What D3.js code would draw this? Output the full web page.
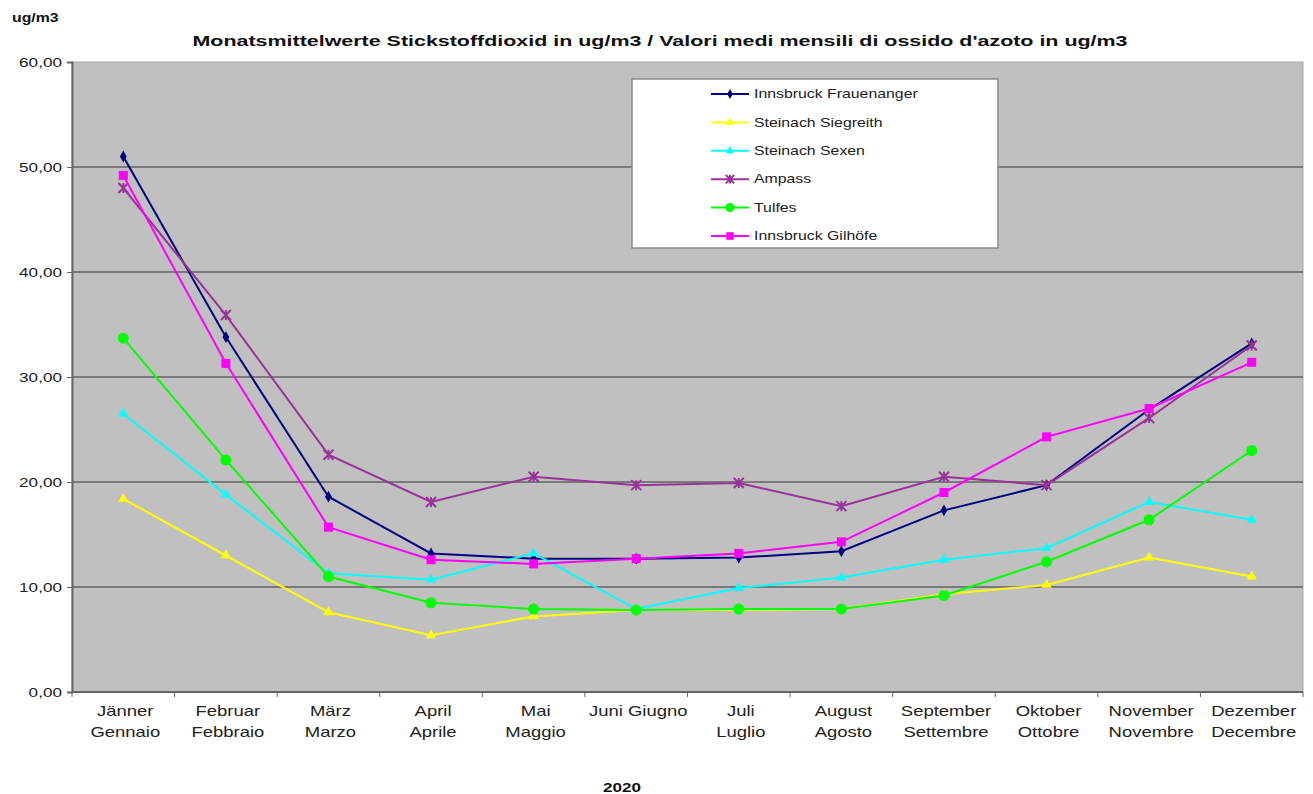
<!DOCTYPE html>
<html>
<head>
<meta charset="utf-8">
<script src="https://cdn.jsdelivr.net/npm/d3@7"></script>
<style>
  html, body { margin: 0; padding: 0; background: #ffffff; }
  svg { display: block; font-family: "Liberation Sans", Arial, sans-serif; }
</style>
</head>
<body>
<svg id="chart" width="1313" height="794"></svg>
<script>
// Monthly NO2 means 2020, ug/m3
const months = [
  ["Jänner", "Gennaio"], ["Februar", "Febbraio"], ["März", "Marzo"],
  ["April", "Aprile"], ["Mai", "Maggio"], ["Juni Giugno"],
  ["Juli", "Luglio"], ["August", "Agosto"], ["September", "Settembre"],
  ["Oktober", "Ottobre"], ["November", "Novembre"], ["Dezember", "Decembre"]
];
const yTicks = [0, 10, 20, 30, 40, 50, 60];

const innsbruckFrauenanger = [51.0, 33.8, 18.6, 13.2, 12.7, 12.7, 12.8, 13.4, 17.3, 19.7, 26.9, 33.2];
const steinachSiegreith    = [18.4, 13.0, 7.6, 5.4, 7.2, 7.8, 7.8, 7.9, 9.3, 10.2, 12.8, 11.0];
const steinachSexen        = [26.5, 18.8, 11.3, 10.7, 13.2, 7.9, 9.9, 10.9, 12.6, 13.7, 18.1, 16.4];
const ampass               = [48.0, 35.9, 22.6, 18.1, 20.5, 19.7, 19.9, 17.7, 20.5, 19.7, 26.1, 33.0];
const tulfes               = [33.7, 22.1, 11.0, 8.5, 7.9, 7.8, 7.9, 7.9, 9.2, 12.4, 16.4, 23.0];
const innsbruckGilhoefe    = [49.2, 31.3, 15.7, 12.6, 12.2, 12.7, 13.2, 14.3, 19.0, 24.3, 27.0, 31.4];

const seriesNames  = ["Innsbruck Frauenanger", "Steinach Siegreith", "Steinach Sexen", "Ampass", "Tulfes", "Innsbruck Gilhöfe"];
const seriesValues = [innsbruckFrauenanger, steinachSiegreith, steinachSexen, ampass, tulfes, innsbruckGilhoefe];
const seriesColors = ["#000080", "#ffff00", "#00ffff", "#993399", "#00ff00", "#ff00ff"];
const seriesMarkers = ["diamond", "triangle", "triangle", "cross", "circle", "square"];

const svg = d3.select("#chart");
const plot = { left: 72, right: 1303, top: 62, bottom: 692 };
const sx = 1.32; // horizontal stretch of the lettering

const x = d3.scaleBand().domain(d3.range(months.length)).range([plot.left, plot.right]).padding(0);
const y = d3.scaleLinear().domain([0, 60]).range([plot.bottom, plot.top]);

// plot background
svg.append("rect")
  .attr("x", plot.left).attr("y", plot.top)
  .attr("width", plot.right - plot.left).attr("height", plot.bottom - plot.top)
  .attr("fill", "#c0c0c0").attr("stroke", "#a8a8a8").attr("stroke-width", 1);

// horizontal gridlines
svg.append("g").selectAll("line").data(yTicks.filter(d => d > 0 && d < 60)).join("line")
  .attr("x1", plot.left).attr("x2", plot.right)
  .attr("y1", d => y(d)).attr("y2", d => y(d))
  .attr("stroke", "#7a7a7a").attr("stroke-width", 2);

// y axis
const yAxis = d3.axisLeft(y).tickValues(yTicks).tickSize(5).tickFormat(d => d3.format(".2f")(d).replace(".", ","));
const gy = svg.append("g").attr("transform", `translate(${plot.left},0)`).call(yAxis);
gy.select(".domain").attr("stroke", "#666").attr("stroke-width", 2);
gy.selectAll(".tick line").attr("stroke", "#666");
gy.selectAll(".tick text").remove();
gy.selectAll(".tick").append("text")
  .attr("transform", `translate(-10,0) scale(${sx},1)`)
  .attr("dy", "0.35em").attr("text-anchor", "end")
  .attr("font-size", 13).attr("fill", "#222")
  .text(d => d3.format(".2f")(d).replace(".", ","));

// x axis: ticks at category boundaries
const boundaries = d3.range(months.length + 1).map(i => plot.left + i * x.bandwidth());
svg.append("line").attr("x1", plot.left).attr("x2", plot.right)
  .attr("y1", plot.bottom).attr("y2", plot.bottom).attr("stroke", "#666").attr("stroke-width", 2);
svg.append("g").selectAll("line").data(boundaries).join("line")
  .attr("x1", d => d).attr("x2", d => d)
  .attr("y1", plot.bottom).attr("y2", plot.bottom + 5)
  .attr("stroke", "#666");

// month labels
const xl = svg.append("g").selectAll("text").data(months).join("text")
  .attr("transform", (d, i) => `translate(${x(i) + x.bandwidth() / 2 + 2},${plot.bottom + 24}) scale(${sx},1)`)
  .attr("text-anchor", "middle").attr("font-size", 14).attr("fill", "#222");
xl.selectAll("tspan").data(d => d).join("tspan")
  .attr("x", 0).attr("dy", (d, i) => i === 0 ? 0 : 21).text(d => d);

// series lines and markers
const line = d3.line().x((d, i) => x(i) + x.bandwidth() / 2).y(d => y(d));

function drawMarker(g, type, color, cx, cy, scale) {
  const s = scale || 1;
  if (type === "diamond") {
    g.append("path").attr("d", d3.symbol(d3.symbolDiamond, 40 * s)())
      .attr("transform", `translate(${cx},${cy})`).attr("fill", color);
  } else if (type === "triangle") {
    g.append("path").attr("d", d3.symbol(d3.symbolTriangle, 45 * s)())
      .attr("transform", `translate(${cx},${cy})`).attr("fill", color);
  } else if (type === "circle") {
    g.append("circle").attr("cx", cx).attr("cy", cy).attr("r", 5.5 * Math.sqrt(s)).attr("fill", color);
  } else if (type === "square") {
    const h = 4.5 * Math.sqrt(s);
    g.append("rect").attr("x", cx - h).attr("y", cy - h).attr("width", 2 * h).attr("height", 2 * h).attr("fill", color);
  } else if (type === "cross") {
    const h = 5 * Math.sqrt(s);
    g.append("path")
      .attr("d", `M${cx - h},${cy - h}L${cx + h},${cy + h}M${cx - h},${cy + h}L${cx + h},${cy - h}M${cx},${cy - h}L${cx},${cy + h}`)
      .attr("stroke", color).attr("stroke-width", 2).attr("fill", "none");
  }
}

seriesValues.forEach((vals, k) => {
  const g = svg.append("g");
  g.append("path").datum(vals).attr("d", line)
    .attr("fill", "none").attr("stroke", seriesColors[k]).attr("stroke-width", 2);
  vals.forEach((v, i) => drawMarker(g, seriesMarkers[k], seriesColors[k], x(i) + x.bandwidth() / 2, y(v)));
});

// legend
const lg = svg.append("g");
lg.append("rect").attr("x", 632).attr("y", 79).attr("width", 366).attr("height", 169)
  .attr("fill", "#ffffff").attr("stroke", "#8a8a8a").attr("stroke-width", 1.5);
seriesNames.forEach((name, k) => {
  const ly = 94 + k * 28.4;
  lg.append("line").attr("x1", 711).attr("x2", 749).attr("y1", ly).attr("y2", ly)
    .attr("stroke", seriesColors[k]).attr("stroke-width", 2);
  drawMarker(lg, seriesMarkers[k], seriesColors[k], 730, ly, 0.7);
  lg.append("text").attr("transform", `translate(754,${ly}) scale(${sx},1)`)
    .attr("dy", "0.35em").attr("font-size", 12).attr("fill", "#222").text(name);
});

// titles
svg.append("text").attr("x", 660).attr("y", 46).attr("text-anchor", "middle")
  .attr("font-size", 15.5).attr("font-weight", "bold").attr("fill", "#111")
  .attr("textLength", 935).attr("lengthAdjust", "spacingAndGlyphs")
  .text("Monatsmittelwerte Stickstoffdioxid in ug/m3 / Valori medi mensili di ossido d'azoto in ug/m3");
svg.append("text").attr("transform", `translate(12,22) scale(${sx},1)`)
  .attr("font-size", 12).attr("font-weight", "bold").attr("fill", "#111").text("ug/m3");
svg.append("text").attr("transform", `translate(622,792) scale(${sx},1)`).attr("text-anchor", "middle")
  .attr("font-size", 13).attr("font-weight", "bold").attr("fill", "#111").text("2020");
</script>
</body>
</html>
